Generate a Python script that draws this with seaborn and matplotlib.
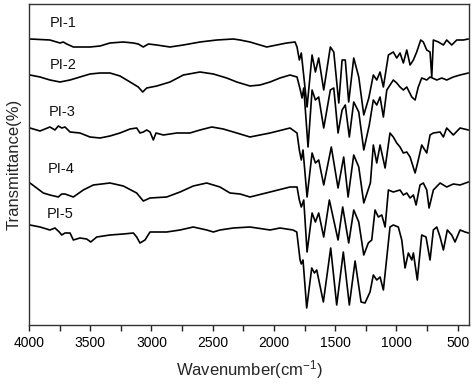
import matplotlib
matplotlib.use("Agg")
import matplotlib.pyplot as plt
import seaborn as sns
import pandas as pd
from matplotlib.ticker import MultipleLocator

# ---- data (wavenumber cm-1, offset transmittance a.u.) ----
pi1_wn = [3992, 3829, 3747, 3720, 3692, 3638, 3584, 3502, 3420, 3339, 3230, 3148, 3108, 3067, 3026,
          2957, 2849, 2740, 2604, 2467, 2332, 2277, 2196, 2114, 2059, 1978, 1896, 1828, 1812, 1793,
          1777, 1730, 1689, 1662, 1635, 1594, 1540, 1512, 1471, 1444, 1418, 1390, 1349, 1308, 1267,
          1226, 1189, 1161, 1134, 1107, 1066, 1026, 998, 971, 944, 916, 889, 862, 835, 802, 781,
          753, 726, 712, 699, 658, 617, 590, 549, 508, 454, 413]
pi1_t = [286, 285, 282, 283, 281, 278, 278, 278, 279, 282, 283, 282, 281, 278, 281,
         280, 278, 280, 283, 285, 286, 285, 283, 280, 278, 280, 282, 283, 278, 265,
         272, 218, 270, 253, 267, 235, 278, 273, 222, 265, 265, 223, 267, 248, 210,
         227, 250, 245, 253, 238, 270, 273, 267, 272, 262, 275, 260, 265, 273, 285, 283,
         275, 273, 248, 285, 283, 280, 285, 280, 285, 285, 286]

pi2_wn = [3992, 3910, 3829, 3747, 3665, 3584, 3502, 3420, 3339, 3257, 3175, 3108, 3072, 3039, 2957,
          2849, 2740, 2604, 2495, 2386, 2304, 2196, 2114, 2032, 1951, 1869, 1812, 1785, 1771, 1757,
          1722, 1689, 1662, 1635, 1594, 1540, 1512, 1477, 1444, 1418, 1385, 1349, 1308, 1267, 1222,
          1189, 1161, 1134, 1107, 1079, 1026, 998, 971, 944, 916, 875, 848, 822, 794, 753, 726,
          671, 630, 590, 536, 481, 413]
pi2_t = [250, 248, 245, 243, 245, 248, 251, 252, 252, 249, 243, 238, 233, 237, 239,
         243, 250, 253, 251, 247, 243, 239, 240, 243, 247, 250, 248, 235, 227, 237,
         178, 235, 225, 228, 197, 235, 237, 192, 215, 220, 188, 223, 213, 175, 200,
         225, 220, 228, 208, 235, 245, 242, 238, 235, 238, 228, 225, 238, 247, 245, 248,
         245, 247, 245, 248, 250, 252]

pi3_wn = [3992, 3910, 3829, 3788, 3761, 3733, 3706, 3665, 3584, 3502, 3420, 3339, 3257, 3175, 3121,
          3094, 3067, 3039, 3012, 2985, 2963, 2903, 2794, 2686, 2604, 2508, 2414, 2304, 2196, 2032,
          1869, 1812, 1793, 1777, 1763, 1730, 1689, 1662, 1635, 1594, 1532, 1477, 1431, 1395, 1349,
          1308, 1267, 1213, 1189, 1161, 1134, 1093, 1053, 1026, 998, 971, 944, 916, 889, 848, 822,
          794, 753, 726, 699, 644, 617, 590, 536, 481, 413]
pi3_t = [197, 194, 198, 195, 199, 197, 198, 193, 192, 188, 187, 189, 192, 196, 197,
         192, 193, 195, 193, 185, 192, 190, 192, 192, 195, 198, 196, 192, 188, 192,
         197, 192, 175, 165, 175, 128, 172, 162, 165, 140, 178, 137, 168, 128, 170,
         158, 122, 142, 180, 162, 180, 157, 192, 188, 182, 178, 172, 173, 168, 152, 165,
         180, 172, 190, 192, 193, 188, 197, 190, 197, 195]

pi4_wn = [3992, 3883, 3829, 3761, 3733, 3706, 3638, 3557, 3475, 3339, 3230, 3121, 3067, 3012, 2876,
          2767, 2659, 2549, 2441, 2359, 2277, 2196, 2032, 1869, 1812, 1793, 1777, 1757, 1730, 1689,
          1662, 1635, 1594, 1548, 1477, 1439, 1390, 1349, 1308, 1267, 1230, 1202, 1175, 1148, 1120,
          1093, 1066, 1026, 971, 944, 916, 889, 862, 840, 808, 781, 753, 734, 699, 644, 590,
          536, 481, 413]
pi4_t = [142, 132, 130, 128, 131, 131, 128, 135, 140, 142, 139, 132, 124, 127, 128,
         133, 139, 142, 138, 132, 131, 128, 133, 138, 138, 125, 118, 125, 73, 112,
         103, 112, 88, 125, 85, 118, 82, 115, 103, 70, 82, 85, 115, 108, 110,
         98, 135, 133, 135, 130, 132, 127, 130, 120, 140, 142, 135, 117, 135, 142, 138,
         141, 140, 143]

pi5_wn = [3992, 3910, 3829, 3788, 3753, 3733, 3706, 3665, 3638, 3584, 3529, 3496, 3447, 3339, 3230,
          3148, 3121, 3094, 3053, 3012, 2876, 2767, 2659, 2549, 2495, 2441, 2332, 2196, 2032, 1951,
          1845, 1814, 1787, 1777, 1763, 1733, 1692, 1670, 1651, 1597, 1537, 1488, 1434, 1385, 1338,
          1289, 1257, 1216, 1189, 1161, 1134, 1107, 1053, 1026, 985, 957, 930, 903, 875, 862, 830,
          794, 759, 726, 699, 671, 644, 617, 585, 549, 522, 481, 440, 413]
pi5_t = [100, 98, 95, 97, 93, 90, 92, 92, 85, 87, 86, 83, 88, 90, 91,
         92, 88, 82, 85, 93, 93, 95, 98, 95, 93, 95, 97, 98, 95, 97,
         95, 93, 65, 61, 65, 17, 57, 52, 55, 23, 77, 20, 73, 20, 64,
         23, 22, 33, 50, 45, 48, 35, 98, 100, 98, 85, 57, 72, 65, 72, 45,
         90, 88, 65, 95, 98, 88, 75, 95, 90, 83, 95, 93, 92]

samples = ["PI-1", "PI-2", "PI-3", "PI-4", "PI-5"]
label_wn = [3718, 3722, 3731, 3739, 3747]
label_t = [302, 260, 213, 156, 111]
xticks = [4000, 3500, 3000, 2500, 2000, 1500, 1000, 500]

# ---- build tidy table ----
frames = []
for name, wn, t in zip(samples,
                       [pi1_wn, pi2_wn, pi3_wn, pi4_wn, pi5_wn],
                       [pi1_t, pi2_t, pi3_t, pi4_t, pi5_t]):
    frames.append(pd.DataFrame({"wn": wn, "t": t, "sample": name}))
df = pd.concat(frames, ignore_index=True)

sns.set_style("ticks")
plt.rcParams['font.family'] = ['Liberation Sans', 'DejaVu Sans']
plt.rcParams['mathtext.fontset'] = 'custom'
plt.rcParams['mathtext.rm'] = 'Liberation Sans'
plt.rcParams['mathtext.it'] = 'Liberation Sans:italic'

fig = plt.figure(figsize=(4.74, 3.88), dpi=100)
ax = fig.add_axes([29 / 474, 63 / 388, 440 / 474, 321 / 388])

sns.lineplot(data=df, x="wn", y="t", hue="sample", palette=["black"] * 5,
             estimator=None, legend=False, ax=ax, linewidth=1.2)

for name, lx, ly in zip(samples, label_wn, label_t):
    ax.text(lx, ly, name, ha="center", va="center", fontsize=10.5, color="#111111")

ax.set_xlim(4000, 408)
ax.set_ylim(0, 321)
ax.set_xticks(xticks)
ax.set_xticklabels([str(v) for v in xticks])
ax.xaxis.set_minor_locator(MultipleLocator(250))
ax.set_yticks([])
ax.tick_params(axis="x", which="both", direction="out", length=4, width=1.0,
               colors="#222222", labelsize=10, pad=4, top=False)
ax.tick_params(axis="x", which="major", labelcolor="black")
for sp in ax.spines.values():
    sp.set_visible(True)
    sp.set_linewidth(1.0)
    sp.set_color("#333333")

ax.set_xlabel("Wavenumber(cm$^{-1}$)", fontsize=12, labelpad=6)
ax.set_ylabel("Transmittance(%)", fontsize=12, labelpad=5)

fig.savefig("out.png", dpi=100)
